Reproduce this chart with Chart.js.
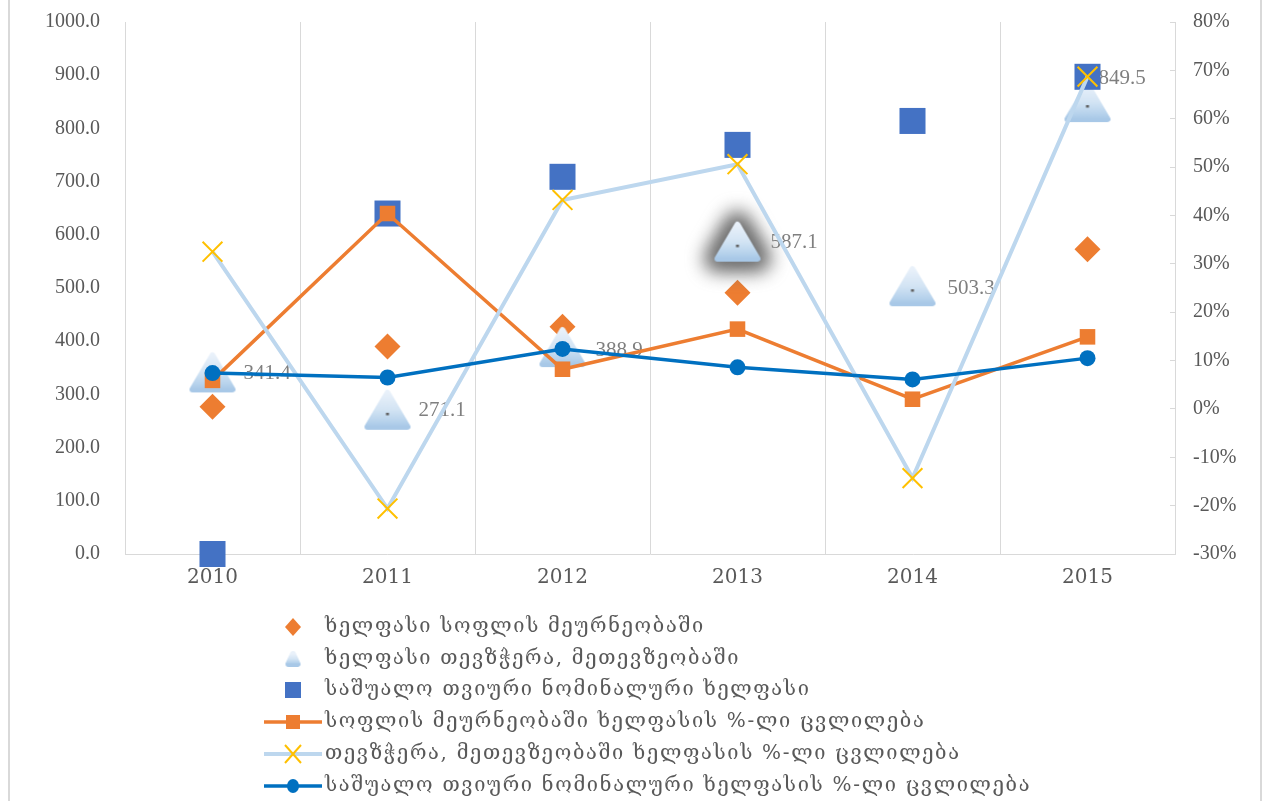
<!DOCTYPE html>
<html>
<head>
<meta charset="utf-8">
<script src="https://cdn.jsdelivr.net/npm/chart.js@4.4.1/dist/chart.umd.min.js"></script>
<style>
  html, body { margin: 0; padding: 0; background: #fff; }
  #wrap { width: 1270px; height: 801px; position: relative; }
</style>
</head>
<body>
<div id="wrap"><canvas id="wageChart" width="1270" height="801"></canvas></div>
<script>
// categories
const years = ['2010', '2011', '2012', '2013', '2014', '2015'];

// wages (left axis)
const agriWage = [277, 390, 427, 491, 500, 573];
const fishWage = [341.4, 271.1, 388.9, 587.1, 503.3, 849.5];
const avgWage = [0, 640, 709, 769, 814, 897];

// % change (right axis)
const agriChange = [5.9, 40.4, 8.2, 16.5, 2.0, 14.9];
const fishChange = [32.5, -20.6, 43.2, 50.6, -14.3, 68.7];
const avgChange = [7.4, 6.5, 12.4, 8.6, 6.1, 10.5];

// tick range
const leftTicks = { min: 0, max: 1000, step: 100 };
const rightTicks = { min: -30, max: 80, step: 10 };

const seriesNames = [
    'ხელფასი სოფლის მეურნეობაში',
    'ხელფასი თევზჭერა, მეთევზეობაში',
    'საშუალო თვიური ნომინალური ხელფასი',
    'სოფლის მეურნეობაში ხელფასის %-ლი ცვლილება',
    'თევზჭერა, მეთევზეობაში ხელფასის %-ლი ცვლილება',
    'საშუალო თვიური ნომინალური ხელფასის %-ლი ცვლილება'
];

const gray = '#595959';
const gridGray = '#d9d9d9';
const numFont = '"Liberation Serif", "Times New Roman", serif';
const geoFont = '"DejaVu Serif", "DejaVu Sans", serif';

// gradient triangle marker, drawn into a small canvas
function makeTriangle(w, h, glow, dot) {
    const pad = glow ? 36 : 2;
    const c = document.createElement('canvas');
    c.width = w + pad * 2;
    c.height = h + pad * 2;
    const g = c.getContext('2d');
    const top = pad + 3, bot = pad + h - 3, left = pad + 3, right = pad + w - 3, mid = pad + w / 2;
    function path() {
        g.beginPath();
        g.moveTo(mid, top);
        g.lineTo(right, bot);
        g.lineTo(left, bot);
        g.closePath();
    }
    if (glow) {
        g.save();
        g.filter = 'blur(9px)';
        g.fillStyle = '#707070';
        g.strokeStyle = '#707070';
        g.lineJoin = 'round';
        g.lineWidth = 28;
        path(); g.fill(); g.stroke();
        g.restore();
    }
    const grad = g.createLinearGradient(0, top, 0, bot);
    grad.addColorStop(0, '#e9f1fa');
    grad.addColorStop(0.5, '#d3e4f4');
    grad.addColorStop(0.85, '#b6d2ec');
    grad.addColorStop(1, '#a8c8e7');
    g.fillStyle = grad;
    g.strokeStyle = grad;
    g.lineJoin = 'round';
    g.lineWidth = 6;
    path(); g.fill(); g.stroke();
    if (dot) {
        g.fillStyle = '#606060';
        g.fillRect(mid - 1.5, pad + h * 0.6 - 1, 3, 2.5);
    }
    return c;
}

const triImg = makeTriangle(46, 40, false, true);
const triGlowImg = makeTriangle(46, 40, true, true);
const triLegendImg = makeTriangle(15, 16, false, false);

const glowIndex = 3;

const datasets = [
    {
        label: seriesNames[0], data: agriWage, yAxisID: 'y', showLine: false,
        pointStyle: 'rectRot', pointRadius: 13, pointBorderWidth: 0,
        backgroundColor: '#ed7d31', borderColor: '#ed7d31', order: 6
    },
    {
        label: seriesNames[1], data: fishWage, yAxisID: 'y', showLine: false,
        pointStyle: ctx => (ctx.dataIndex === glowIndex ? triGlowImg : triImg),
        pointRadius: 22, pointBorderWidth: 0,
        backgroundColor: '#bdd7ee', borderColor: '#bdd7ee', order: 5
    },
    {
        label: seriesNames[2], data: avgWage, yAxisID: 'y', showLine: false,
        pointStyle: 'rect', pointRadius: 18.4, pointBorderWidth: 0,
        backgroundColor: '#4472c4', borderColor: '#4472c4', order: 4
    },
    {
        label: seriesNames[3], data: agriChange, yAxisID: 'y1',
        borderColor: '#ed7d31', borderWidth: 3.5, tension: 0,
        pointStyle: 'rect', pointRadius: 11, pointBorderWidth: 0,
        pointBackgroundColor: '#ed7d31', order: 3
    },
    {
        label: seriesNames[4], data: fishChange, yAxisID: 'y1',
        borderColor: '#bdd7ee', borderWidth: 4, tension: 0,
        pointStyle: 'crossRot', pointRadius: 14, pointBorderWidth: 2,
        pointBorderColor: '#ffc000', pointBackgroundColor: '#ffc000', order: 2
    },
    {
        label: seriesNames[5], data: avgChange, yAxisID: 'y1',
        borderColor: '#0070c0', borderWidth: 3.5, tension: 0,
        pointStyle: 'circle', pointRadius: 8, pointBorderWidth: 0,
        pointBackgroundColor: '#0070c0', order: 1
    }
];
datasets.forEach(d => { d.clip = false; });

// thin frame lines at the sides of the picture
const frameLines = {
    id: 'frameLines',
    beforeDraw(chart) {
        const ctx = chart.ctx;
        ctx.save();
        ctx.fillStyle = gridGray;
        ctx.fillRect(8, 0, 2, chart.height);
        ctx.fillRect(1260, 0, 2, chart.height);
        ctx.restore();
    }
};

// value labels next to the triangles (last one was moved by hand in the original)
const labelShift = [[31, 0], [31, 0], [33, 2], [33, 0], [35, 1], [11, -25]];
const triLabels = {
    id: 'triLabels',
    afterDatasetDraw(chart, args) {
        if (args.index !== 1) return;
        const ctx = chart.ctx;
        ctx.save();
        ctx.font = '21px ' + numFont;
        ctx.fillStyle = '#7f7f7f';
        ctx.textAlign = 'left';
        ctx.textBaseline = 'middle';
        args.meta.data.forEach((pt, i) => {
            const sh = labelShift[i];
            ctx.fillText(fishWage[i].toFixed(1), pt.x + sh[0], pt.y + sh[1] + 1);
        });
        ctx.restore();
    }
};

// legend below the plot, one entry per row
const rowLegend = {
    id: 'rowLegend',
    afterDraw(chart) {
        const ctx = chart.ctx;
        const rowY = [627, 659, 690, 722, 754, 786];
        const mx = 293, tx = 325;
        ctx.save();
        chart.data.datasets.forEach((ds, i) => {
            const y = rowY[i];
            if (ds.showLine !== false) {
                ctx.strokeStyle = ds.borderColor;
                ctx.lineWidth = ds.borderWidth;
                ctx.beginPath();
                ctx.moveTo(264, y);
                ctx.lineTo(322, y);
                ctx.stroke();
            }
            const style = ds.pointStyle;
            if (typeof style === 'function') {
                ctx.drawImage(triLegendImg, mx - triLegendImg.width / 2, y - triLegendImg.height / 2);
            } else if (style === 'rectRot') {
                ctx.fillStyle = ds.backgroundColor;
                ctx.beginPath();
                ctx.moveTo(mx, y - 9); ctx.lineTo(mx + 8, y); ctx.lineTo(mx, y + 9); ctx.lineTo(mx - 8, y);
                ctx.closePath(); ctx.fill();
            } else if (style === 'rect') {
                const s = ds.showLine === false ? 8 : 7;
                ctx.fillStyle = ds.pointBackgroundColor || ds.backgroundColor;
                ctx.fillRect(mx - s, y - s, s * 2, s * 2);
            } else if (style === 'crossRot') {
                ctx.strokeStyle = ds.pointBorderColor;
                ctx.lineWidth = 2;
                ctx.beginPath();
                ctx.moveTo(mx - 8, y - 9); ctx.lineTo(mx + 8, y + 9);
                ctx.moveTo(mx + 8, y - 9); ctx.lineTo(mx - 8, y + 9);
                ctx.stroke();
            } else if (style === 'circle') {
                ctx.fillStyle = ds.pointBackgroundColor;
                ctx.beginPath();
                ctx.ellipse(mx, y, 6, 7, 0, 0, Math.PI * 2);
                ctx.fill();
            }
            ctx.font = '20px ' + geoFont;
            if ('letterSpacing' in ctx) ctx.letterSpacing = '1.7px';
            ctx.fillStyle = gray;
            ctx.textAlign = 'left';
            ctx.textBaseline = 'middle';
            ctx.fillText(ds.label, tx, y);
            if ('letterSpacing' in ctx) ctx.letterSpacing = '0px';
        });
        ctx.restore();
    }
};

// keep the label padding from pushing the plot area down
function fixWidth(w) {
    return s => {
        s.width = w;
        s.paddingTop = 0;
        s.paddingBottom = 0;
    };
}

const chart = new Chart(document.getElementById('wageChart').getContext('2d'), {
    type: 'line',
    data: { labels: years, datasets: datasets },
    options: {
        responsive: false,
        animation: false,
        layout: { padding: { top: 22, left: 0, right: 0, bottom: 0 } },
        plugins: {
            legend: { display: false },
            tooltip: { enabled: false }
        },
        scales: {
            x: {
                type: 'category',
                offset: true,
                grid: { offset: true, color: gridGray, lineWidth: 1, drawTicks: false },
                border: { color: gridGray, width: 1 },
                ticks: { font: { family: geoFont, size: 20 }, color: gray, padding: 12, maxRotation: 0 },
                afterFit: s => { s.height = 247; s.paddingLeft = 0; s.paddingRight = 0; }
            },
            y: {
                position: 'left',
                min: leftTicks.min, max: leftTicks.max,
                grid: { display: false },
                border: { display: true, color: gridGray, width: 1 },
                ticks: {
                    stepSize: leftTicks.step, padding: 17,
                    font: { family: numFont, size: 20 }, color: gray,
                    callback: v => v.toFixed(1)
                },
                afterFit: fixWidth(125)
            },
            y1: {
                position: 'right',
                min: rightTicks.min, max: rightTicks.max,
                grid: { display: true, drawOnChartArea: false, drawTicks: true, tickLength: -5, color: gridGray },
                border: { display: true, color: gridGray, width: 1 },
                ticks: {
                    stepSize: rightTicks.step, padding: 23,
                    font: { family: numFont, size: 20 }, color: gray,
                    callback: v => v + '%'
                },
                afterFit: fixWidth(95)
            }
        }
    },
    plugins: [frameLines, triLabels, rowLegend]
});
</script>
</body>
</html>
